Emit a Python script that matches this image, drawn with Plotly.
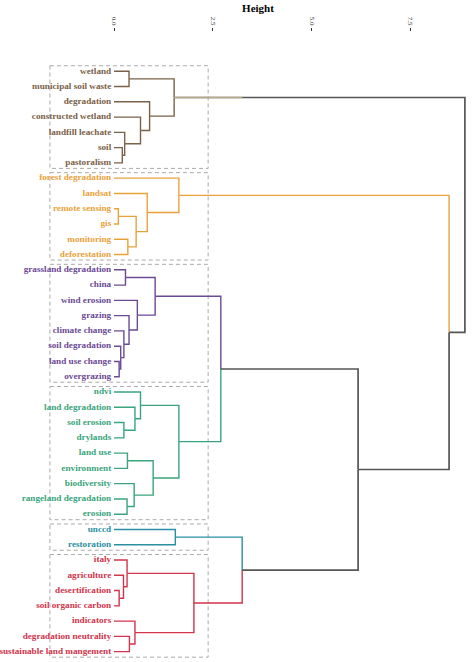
import plotly.graph_objects as go

# ---------------- data ----------------
leaves = [
    "wetland", "municipal soil waste", "degradation", "constructed wetland",
    "landfill leachate", "soil", "pastoralism",
    "forest degradation", "landsat", "remote sensing", "gis", "monitoring", "deforestation",
    "grassland degradation", "china", "wind erosion", "grazing", "climate change",
    "soil degradation", "land use change", "overgrazing",
    "ndvi", "land degradation", "soil erosion", "drylands", "land use", "environment",
    "biodiversity", "rangeland degradation", "erosion",
    "unccd", "restoration",
    "italy", "agriculture", "desertification", "soil organic carbon", "indicators",
    "degradation neutrality", "sustainable land mangement",
]

# merges: node name, left child, right child, height
merge_names = ["b1", "b2", "b3", "b4", "b5", "B",
               "o1", "o2", "o3", "o4", "O",
               "p1", "p2", "p3", "p4", "p5", "p6", "P",
               "g1", "g2", "g3", "g4", "g5", "g6", "g7", "G",
               "T",
               "r1", "r2", "r3", "r4", "r5", "R",
               "C", "D", "N", "A", "root"]
merge_left = ["wetland", "soil", "landfill leachate", "constructed wetland", "degradation", "b1",
              "remote sensing", "monitoring", "o1", "landsat", "forest degradation",
              "grassland degradation", "land use change", "soil degradation", "climate change",
              "grazing", "wind erosion", "p1",
              "soil erosion", "land degradation", "ndvi", "land use", "rangeland degradation",
              "biodiversity", "g4", "g3",
              "unccd",
              "desertification", "agriculture", "italy", "degradation neutrality", "indicators", "r3",
              "P", "T", "C", "O", "B"]
merge_right = ["municipal soil waste", "pastoralism", "b2", "b3", "b4", "b5",
               "gis", "deforestation", "o2", "o3", "o4",
               "china", "overgrazing", "p2", "p3", "p4", "p5", "p6",
               "drylands", "g1", "g2", "environment", "erosion", "g5", "g6", "g7",
               "restoration",
               "soil organic carbon", "r1", "r2", "sustainable land mangement", "r4", "r5",
               "G", "R", "D", "N", "A"]
merge_height = [0.38, 0.21, 0.27, 0.67, 0.90, 1.52,
                0.11, 0.35, 0.56, 0.84, 1.64,
                0.29, 0.13, 0.17, 0.25, 0.38, 0.59, 1.04,
                0.25, 0.53, 0.67, 0.34, 0.33, 0.51, 0.99, 1.64,
                1.55,
                0.13, 0.24, 0.33, 0.39, 0.53, 2.02,
                2.70, 3.24, 6.17, 8.47, 8.87]

cluster_nodes = ["B", "O", "P", "G", "T", "R"]
cluster_colors = ["#7a6148", "#e9a23b", "#6b4a94", "#3aa57c", "#2b8fa2", "#d1344b"]
tick_vals = [0.0, 2.5, 5.0, 7.5]
tick_text = ["0.0", "2.5", "5.0", "7.5"]

# ---------------- layout of tree ----------------
pos_y = {name: i for i, name in enumerate(leaves)}
height = {name: 0.0 for name in leaves}
children = {}
for n, l, r, h in zip(merge_names, merge_left, merge_right, merge_height):
    children[n] = (l, r)
    height[n] = h
    pos_y[n] = (pos_y[l] + pos_y[r]) / 2

def descendants(n):
    out = [n]
    if n in children:
        for c in children[n]:
            out += descendants(c)
    return out

node_color = {}
for cn, col in zip(cluster_nodes, cluster_colors):
    for d in descendants(cn):
        node_color[d] = col

GRAY = "#555555"
segs = {}
def add(col, xs, ys):
    segs.setdefault(col, ([], []))
    segs[col][0].extend(xs + [None])
    segs[col][1].extend(ys + [None])

for n, (l, r) in children.items():
    for c in (l, r):
        col = node_color.get(c, GRAY)
        if c == "B":
            col = GRAY
        add(col, [height[n], height[n], height[c]], [pos_y[n], pos_y[c], pos_y[c]])

fig = go.Figure()
for col, (xs, ys) in segs.items():
    fig.add_trace(go.Scatter(x=xs, y=ys, mode="lines",
                             line=dict(color=col, width=1.7 if col == GRAY else 1.4),
                             hoverinfo="skip", showlegend=False))
# tan part of the brown cluster's branch towards the root
fig.add_trace(go.Scatter(x=[height["B"], height["D"]], y=[pos_y["B"], pos_y["B"]],
                         mode="lines", line=dict(color="#b8ac88", width=1.7),
                         hoverinfo="skip", showlegend=False))

# labels
LABEL_GAP = 0.07
for cn, col in zip(cluster_nodes, cluster_colors):
    labs = [d for d in descendants(cn) if d in leaves]
    fig.add_trace(go.Scatter(
        x=[-LABEL_GAP] * len(labs), y=[pos_y[d] for d in labs], text=labs,
        mode="text", textposition="middle left", cliponaxis=False,
        textfont=dict(family="Liberation Serif", size=9.2, color=col, weight="bold"),
        hoverinfo="skip", showlegend=False))

# dashed rectangles around clusters
for cn in cluster_nodes:
    ys = [pos_y[d] for d in descendants(cn) if d in leaves]
    fig.add_shape(type="rect", x0=-1.62, x1=2.38, y0=min(ys) - 0.36, y1=max(ys) + 0.36,
                  line=dict(color="#aaaaaa", width=1, dash="4px,3px"), layer="below")

fig.update_layout(
    width=474, height=662,
    margin=dict(l=45, r=3, t=32, b=3),
    paper_bgcolor="white", plot_bgcolor="white",
    showlegend=False,
    xaxis=dict(side="top", range=[-1.744, 9.024], tickvals=tick_vals, ticktext=tick_text,
               tickangle=90, ticks="outside", ticklen=3, tickcolor="#333333",
               tickfont=dict(family="Liberation Serif", size=7, color="#333333"),
               showgrid=False, zeroline=False, showline=False,
               title=dict(text="<b>Height</b>", standoff=1,
                          font=dict(family="Liberation Serif", size=11, color="black"))),
    yaxis=dict(range=[38.48, -2.57], visible=False, showgrid=False, zeroline=False),
)

fig.write_html("out.html", config={"displayModeBar": False},
               post_script="document.body.style.margin='0px';document.body.style.overflow='hidden';")
